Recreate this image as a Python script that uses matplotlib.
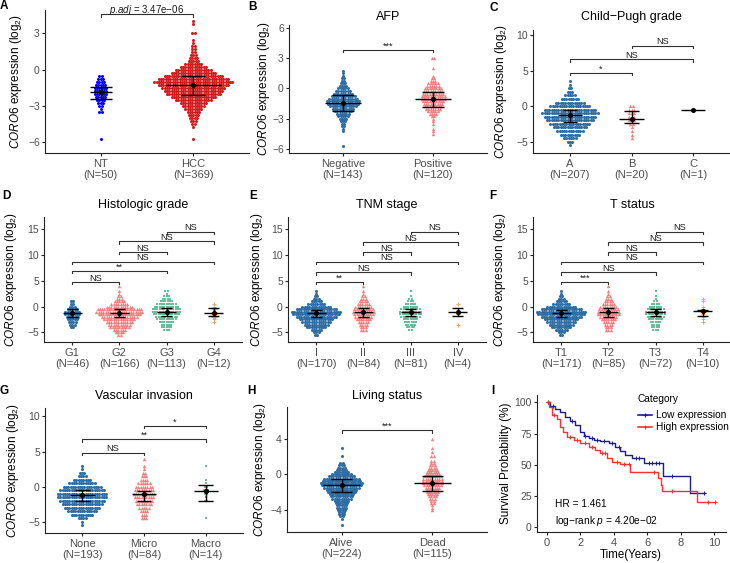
import numpy as np
import matplotlib
matplotlib.use("Agg")
import matplotlib.pyplot as plt
from matplotlib.lines import Line2D

plt.rcParams['font.family'] = ['Liberation Sans', 'DejaVu Sans']
plt.rcParams['mathtext.fontset'] = 'custom'
plt.rcParams['mathtext.rm'] = 'Liberation Sans'
plt.rcParams['mathtext.it'] = 'Liberation Sans:italic'
plt.rcParams['mathtext.bf'] = 'Liberation Sans:bold'

# ======================= DATA =======================
# Each group: value of the top row and number of points per row (rows go down by the panel step)
# Panel A  (step 0.25)
a_labels = ["NT\n(N=50)", "HCC\n(N=369)"]
a_tops = [-0.5, 4.0]
a_nt = [2, 3, 4, 5, 6, 6, 6, 5, 4, 3, 2, 1, 2, 0, 0, 0, 0, 0, 0, 0, 0, 1]
a_hcc = [1, 1, 0, 0, 2, 0, 1, 1, 2, 2, 2, 3, 4, 5, 8, 12, 16, 20, 26, 31, 35, 31, 28, 26, 24,
         20, 16, 12, 10, 8, 6, 5, 4, 3, 2, 1, 0, 0, 0, 1]
a_mean = [-1.87, -1.25]
a_lo = [-2.47, -2.14]
a_hi = [-1.45, -0.53]
a_brackets = [(1, 2, 4.58, r"$\it{p}$.$\it{adj}$ = 3.47e−06")]

# Panel B  AFP (step 0.25)
b_labels = ["Negative\n(N=143)", "Positive\n(N=120)"]
b_tops = [1.75, 3.0]
b_neg = [1, 1, 1, 2, 2, 3, 4, 5, 7, 9, 11, 13, 15, 14, 12, 10, 8, 6, 5, 4, 3, 2, 2, 1, 1,
         0, 0, 0, 0, 0, 1]
b_pos = [2, 0, 0, 0, 1, 0, 0, 1, 2, 3, 5, 6, 8, 9, 10, 11, 11, 10, 9, 8, 7, 5, 4, 2, 1, 1, 1,
         0, 1, 1, 1]
b_mean = [-1.44, -1.07]
b_lo = [-2.2, -1.85]
b_hi = [-0.6, -0.3]
b_brackets = [(1, 2, 3.83, "***")]

# Panel C  Child-Pugh grade (step 0.5)
c_labels = ["A\n(N=207)", "B\n(N=20)", "C\n(N=1)"]
c_tops = [3.5, 0.0, -0.5]
c_a = [1, 1, 2, 3, 5, 8, 13, 18, 23, 25, 23, 21, 18, 15, 12, 9, 6, 3, 1]
c_b = [2, 3, 3, 3, 3, 2, 1, 1, 1, 1]
c_c = [1]
c_mean = [-1.27, -1.83, -0.56]
c_lo = [-2.2, -2.44, np.nan]
c_hi = [-0.56, -0.7, np.nan]
c_brackets = [(1, 2, 4.7, "*"), (1, 3, 6.6, "NS"), (2, 3, 8.5, "NS")]

# Panel D  Histologic grade (step 0.5)
d_labels = ["G1\n(N=46)", "G2\n(N=166)", "G3\n(N=113)", "G4\n(N=12)"]
d_tops = [1.0, 4.0, 3.0, 0.5]
d_g1 = [2, 2, 3, 5, 7, 7, 6, 5, 4, 3, 2]
d_g2 = [1, 0, 1, 1, 2, 3, 5, 8, 12, 20, 21, 19, 16, 14, 12, 10, 9, 6, 4, 2]
d_g3 = [2, 1, 3, 4, 6, 9, 11, 13, 13, 12, 10, 9, 7, 5, 5, 3]
d_g4 = [1, 1, 2, 2, 2, 2, 1, 1]
d_mean = [-1.15, -1.2, -1.05, -1.3]
d_lo = [-1.95, -1.95, -1.85, -1.9]
d_hi = [-0.5, -0.5, -0.2, -0.35]
d_brackets = [(1, 2, 4.8, "NS"), (1, 3, 6.9, "**"), (1, 4, 8.7, "NS"),
              (2, 3, 10.6, "NS"), (2, 4, 12.6, "NS"), (3, 4, 14.5, "NS")]

# Panel E  TNM stage (step 0.5)
e_labels = ["I\n(N=170)", "II\n(N=84)", "III\n(N=81)", "IV\n(N=4)"]
e_tops = [3.0, 4.0, 3.0, 0.5]
e_i = [1, 1, 2, 3, 5, 8, 13, 18, 22, 21, 18, 15, 13, 11, 9, 5, 3, 2]
e_ii = [1, 0, 1, 1, 2, 3, 4, 6, 8, 9, 10, 9, 8, 7, 5, 4, 3, 3]
e_iii = [1, 0, 1, 2, 3, 5, 7, 9, 10, 10, 9, 7, 6, 5, 4, 2]
e_iv = [1, 0, 0, 1, 1, 0, 0, 0, 1]
e_mean = [-1.25, -1.1, -1.05, -1.0]
e_lo = [-2.0, -1.95, -1.85, -1.9]
e_hi = [-0.6, -0.3, -0.4, -0.2]
e_brackets = [(1, 2, 4.8, "**"), (1, 3, 6.6, "NS"), (1, 4, 8.7, "NS"),
              (2, 3, 10.5, "NS"), (2, 4, 12.5, "NS"), (3, 4, 14.5, "NS")]

# Panel F  T status (step 0.5)
f_labels = ["T1\n(N=171)", "T2\n(N=85)", "T3\n(N=72)", "T4\n(N=10)"]
f_tops = [3.0, 4.0, 3.0, 1.5]
f_t1 = [1, 1, 2, 3, 5, 8, 13, 18, 22, 21, 18, 15, 13, 11, 9, 6, 3, 2]
f_t2 = [1, 0, 1, 1, 2, 3, 4, 6, 8, 9, 10, 10, 8, 7, 5, 4, 3, 3]
f_t3 = [1, 0, 1, 1, 2, 4, 6, 8, 9, 9, 8, 7, 5, 4, 4, 3]
f_t4 = [1, 1, 0, 1, 1, 2, 1, 1, 1, 1]
f_mean = [-1.2, -1.1, -1.1, -0.95]
f_lo = [-2.0, -2.0, -1.9, -1.9]
f_hi = [-0.6, -0.3, -0.5, -0.6]
f_brackets = [(1, 2, 4.8, "***"), (1, 3, 6.6, "NS"), (1, 4, 8.7, "NS"),
              (2, 3, 10.5, "NS"), (2, 4, 12.5, "NS"), (3, 4, 14.5, "NS")]

# Panel G  Vascular invasion (step 0.5)
g_labels = ["None\n(N=193)", "Micro\n(N=84)", "Macro\n(N=14)"]
g_tops = [3.0, 4.0, 3.0]
g_none = [1, 1, 3, 4, 8, 12, 17, 20, 22, 22, 20, 18, 16, 13, 10, 4, 1, 1]
g_micro = [1, 0, 1, 1, 2, 3, 4, 6, 8, 9, 10, 9, 8, 7, 5, 4, 3, 3]
g_macro = [1, 0, 0, 0, 1, 1, 2, 3, 2, 1, 2, 0, 0, 0, 0, 1]
g_mean = [-1.2, -1.1, -0.6]
g_lo = [-2.1, -2.0, -2.0]
g_hi = [-0.5, -0.6, 0.3]
g_brackets = [(1, 2, 4.86, "NS"), (1, 3, 6.76, "**"), (2, 3, 8.67, "*")]

# Panel H  Living status (step 0.25)
h_labels = ["Alive\n(N=224)", "Dead\n(N=115)"]
h_tops = [3.0, 4.0]
h_alive = [1, 0, 0, 0, 1, 0, 0, 2, 3, 4, 5, 7, 9, 12, 16, 17, 19, 18, 16, 14, 13, 11, 10, 9, 7,
           6, 5, 5, 4, 3, 3, 2, 1, 0, 0, 1]
h_dead = [1, 0, 0, 0, 1, 0, 1, 0, 2, 0, 2, 2, 3, 4, 5, 6, 7, 8, 9, 9, 9, 8, 7, 6, 6, 5, 4, 3,
          2, 2, 1, 1, 1]
h_mean = [-1.25, -0.95]
h_lo = [-2.05, -1.9]
h_hi = [-0.55, -0.25]
h_brackets = [(1, 2, 4.95, "***")]

# Panel I  Kaplan-Meier
km_low_t = [0, 0.2, 0.5, 0.8, 1.1, 1.4, 1.7, 2.0, 2.2, 2.5, 2.8, 3.2, 3.7, 4.1, 4.4, 4.7, 5.1,
            5.8, 6.95, 8.55, 9.45]
km_low_s = [100, 97.3, 94.6, 92, 88.5, 85, 81.8, 76.5, 73.3, 71.1, 69.8, 69, 67.2, 64.5, 61.2,
            58, 55.7, 51.2, 41.3, 27.2, 27.2]
km_high_t = [0, 0.15, 0.3, 0.6, 0.8, 1.0, 1.2, 1.6, 2.0, 2.5, 2.9, 3.2, 3.6, 3.9, 4.4, 5.0,
             6.65, 6.8, 6.9, 8.95, 10.1]
km_high_s = [100, 96, 90, 87, 80.5, 76.5, 72.5, 69.8, 67.2, 64.5, 61.8, 59.2, 55.2, 52, 50.4,
             44.5, 39.2, 33.9, 29.1, 20, 20]
km_low_cens = [0.05, 0.35, 1.5, 2.3, 2.7, 3.0, 3.4, 3.9, 4.3, 5.3, 5.5, 6.1, 6.3, 6.5, 6.7, 7.5, 9.4]
km_high_cens = [0.05, 0.45, 1.4, 1.8, 2.3, 2.7, 3.3, 3.5, 4.2, 4.6, 4.9, 6.4, 7.5, 9.6, 10.05]
km_legend = ["Low expression", "High expression"]
km_hr_text = "HR = 1.461"
km_p_text = r"log−rank $\it{p}$ = 4.20e−02"

# ======================= STYLE / LAYOUT =======================
W, H = 730, 563
fig = plt.figure(figsize=(W / 100, H / 100), dpi=100)

BLUE, PINK, GREEN, ORANGE = '#2E6DA4', '#F08080', '#66BF97', '#F4A460'
TICKC = '#4D4D4D'
YLAB = r"$\it{CORO6}$ expression (log$_2$)"


def add_ax(x0, y0, x1, y1):
    return fig.add_axes([x0 / W, 1 - y1 / H, (x1 - x0) / W, (y1 - y0) / H])


def fx(x):
    return x / W


def fy(y):
    return 1 - y / H


def style(ax):
    for s in ['top', 'right']:
        ax.spines[s].set_visible(False)
    for s in ['left', 'bottom']:
        ax.spines[s].set_linewidth(0.8)
        ax.spines[s].set_color('#222222')
    ax.tick_params(length=2.5, width=0.8, color='#222222', labelcolor=TICKC, labelsize=8,
                   pad=1.8)
    ax.tick_params(axis='y', labelsize=7.5, pad=1.2)
    ax.patch.set_alpha(0)


MSIZE = {'o': 4.8, '^': 6.0, 's': 3.8, '+': 7.0}


def dot_panel(box, ylim, yticks, labels, groups, tops, step, colors, markers,
              means, los, his, brackets, title=None, title_y=None, letter=None,
              letter_xy=None, ylab_x=None, hws=None, cws=None, sp=2.3, bfs=6.6):
    x0, y0, x1, y1 = box
    ax = add_ax(*box)
    style(ax)
    n = len(groups)
    ax.set_xlim(0.4, n + 0.6)
    ax.set_ylim(*ylim)
    pxu = (x1 - x0) / (n + 0.2)
    ypp = (ylim[1] - ylim[0]) / (y1 - y0)
    if hws is None:
        hws = [0.2] * n
    if cws is None:
        cws = [0.12] * n
    for i, (cnts, top) in enumerate(zip(groups, tops)):
        xc = i + 1
        xs, ys = [], []
        for j, c in enumerate(cnts):
            if c == 0:
                continue
            yv = top - j * step
            offs = (np.arange(c) - (c - 1) / 2) * sp / pxu
            xs.extend(xc + offs)
            ys.extend([yv] * c)
        mk = markers[i]
        if mk == '+':
            ax.scatter(xs, ys, s=MSIZE[mk], marker=mk, c=colors[i], linewidths=0.7, zorder=2)
        else:
            ax.scatter(xs, ys, s=MSIZE[mk], marker=mk, c=colors[i], linewidths=0, zorder=2)
        m, lo, hi = means[i], los[i], his[i]
        kw = dict(color='black', lw=1.0, zorder=4, solid_capstyle='butt')
        ax.plot([xc - hws[i], xc + hws[i]], [m, m], **kw)
        if not np.isnan(lo):
            ax.plot([xc - cws[i], xc + cws[i]], [lo, lo], **kw)
            ax.plot([xc - cws[i], xc + cws[i]], [hi, hi], **kw)
            ax.plot([xc, xc], [lo, hi], **kw)
        ax.plot([xc], [m], 'o', ms=2.6, color='black', zorder=5)
    for (b1, b2, by, txt) in brackets:
        t = 2.5 * ypp
        ax.plot([b1, b1, b2, b2], [by - t, by, by, by - t], color='#303030', lw=0.8,
                clip_on=False, zorder=3)
        ax.text((b1 + b2) / 2, by + 1.2 * ypp, txt, ha='center', va='baseline',
                fontsize=bfs, color='#1a1a1a')
    ax.set_yticks(yticks)
    ax.set_xticks(range(1, n + 1))
    ax.set_xticklabels(labels, linespacing=1.15)
    fig.text(fx(ylab_x), fy((y0 + y1) / 2), YLAB, rotation=90, ha='center', va='center',
             fontsize=8.5)
    if title:
        fig.text(fx((x0 + x1) / 2), fy(title_y), title, ha='center', va='center', fontsize=9)
    fig.text(fx(letter_xy[0]), fy(letter_xy[1]), letter, ha='center', va='center',
             fontsize=8.5, fontweight='bold')
    return ax


# A
dot_panel((45, 10, 249, 152.7), (-6.9, 4.95), [-6, -3, 0, 3], a_labels, [a_nt, a_hcc], a_tops,
          0.25, ['#0000FF', '#D11A1A'], ['o', 'o'], a_mean, a_lo, a_hi, a_brackets,
          letter='A', letter_xy=(4, 6), ylab_x=16, hws=[0.12, 0.3], cws=[0.12, 0.13], bfs=7.0)
# B
dot_panel((289, 25, 487, 152.7), (-6.37, 6.3), [-6, -3, 0, 3, 6], b_labels, [b_neg, b_pos],
          b_tops, 0.25, [BLUE, PINK], ['o', '^'], b_mean, b_lo, b_hi, b_brackets,
          title="AFP", title_y=17, letter='B', letter_xy=(252, 7), ylab_x=264)
# C
dot_panel((533, 30, 730, 152.7), (-6.55, 10.7), [-5, 0, 5, 10], c_labels, [c_a, c_b, c_c],
          c_tops, 0.5, [BLUE, PINK, GREEN], ['o', '^', 's'], c_mean, c_lo, c_hi, c_brackets,
          title="Child−Pugh grade", title_y=17, letter='C', letter_xy=(494, 8), ylab_x=501)
# D
dot_panel((44, 216.7, 242, 341.7), (-6.8, 17.4), [-5, 0, 5, 10, 15], d_labels,
          [d_g1, d_g2, d_g3, d_g4], d_tops, 0.5, [BLUE, PINK, GREEN, ORANGE],
          ['o', '^', 's', '+'], d_mean, d_lo, d_hi, d_brackets,
          title="Histologic grade", title_y=205, letter='D', letter_xy=(6, 196), ylab_x=11)
# E
dot_panel((288, 216.7, 486, 341.7), (-6.8, 17.4), [-5, 0, 5, 10, 15], e_labels,
          [e_i, e_ii, e_iii, e_iv], e_tops, 0.5, [BLUE, PINK, GREEN, ORANGE],
          ['o', '^', 's', '+'], e_mean, e_lo, e_hi, e_brackets,
          title="TNM stage", title_y=205, letter='E', letter_xy=(253, 196), ylab_x=256.7)
# F
dot_panel((533, 216.7, 731, 341.7), (-6.8, 17.4), [-5, 0, 5, 10, 15], f_labels,
          [f_t1, f_t2, f_t3, f_t4], f_tops, 0.5, [BLUE, PINK, GREEN, ORANGE],
          ['o', '^', 's', '+'], f_mean, f_lo, f_hi, f_brackets,
          title="T status", title_y=205, letter='F', letter_xy=(493, 196), ylab_x=500.3)
# G
dot_panel((45, 408, 243, 533), (-6.6, 11.2), [-5, 0, 5, 10], g_labels,
          [g_none, g_micro, g_macro], g_tops, 0.5, [BLUE, PINK, GREEN], ['o', '^', 's'],
          g_mean, g_lo, g_hi, g_brackets,
          title="Vascular invasion", title_y=395.7, letter='G', letter_xy=(4, 391), ylab_x=13.3)
# H
dot_panel((287, 406.7, 487, 532), (-6.5, 7.6), [-4, 0, 4], h_labels, [h_alive, h_dead],
          h_tops, 0.25, [BLUE, PINK], ['o', '^'], h_mean, h_lo, h_hi, h_brackets,
          title="Living status", title_y=395.7, letter='H', letter_xy=(251, 391), ylab_x=260)

# I  Kaplan-Meier
LOWC, HIGHC = '#1C1C8C', '#FF3030'
axI = add_ax(537, 395, 726, 532)
style(axI)
axI.set_xlim(-0.58, 10.7)
axI.set_ylim(-3.76, 105.8)
for t, s, cens, col in [(km_low_t, km_low_s, km_low_cens, LOWC),
                        (km_high_t, km_high_s, km_high_cens, HIGHC)]:
    axI.step(t, s, where='post', color=col, lw=1.0, zorder=3)
    t_arr = np.array(t)
    s_arr = np.array(s)
    cs = [s_arr[np.searchsorted(t_arr, c, side='right') - 1] for c in cens]
    axI.plot(cens, cs, '+', color=col, ms=3.5, mew=0.7, zorder=4)
axI.set_xticks([0, 2, 4, 6, 8, 10])
axI.set_yticks([0, 25, 50, 75, 100])
fig.text(fx(631), fy(555), "Time(Years)", ha='center', va='center', fontsize=8.3)
fig.text(fx(506), fy(463), "Survival Probability (%)", rotation=90, ha='center',
         va='center', fontsize=8.5)
fig.text(fx(638), fy(399), "Category", ha='left', va='center', fontsize=7.3)
for yy, col, lab in [(415, LOWC, km_legend[0]), (427.3, HIGHC, km_legend[1])]:
    fig.add_artist(Line2D([fx(638), fx(652)], [fy(yy), fy(yy)], color=col, lw=1.2))
    fig.add_artist(Line2D([fx(645)], [fy(yy)], marker='+', color=col, ms=3.5, mew=0.8))
    fig.text(fx(655.5), fy(yy), lab, ha='left', va='center', fontsize=7.3)
fig.text(fx(555), fy(504), km_hr_text, ha='left', va='center', fontsize=7.3)
fig.text(fx(555), fy(520.7), km_p_text, ha='left', va='center', fontsize=7.3)
fig.text(fx(493), fy(391), "I", ha='center', va='center', fontsize=8.5, fontweight='bold')

fig.savefig("out.png", dpi=100)
